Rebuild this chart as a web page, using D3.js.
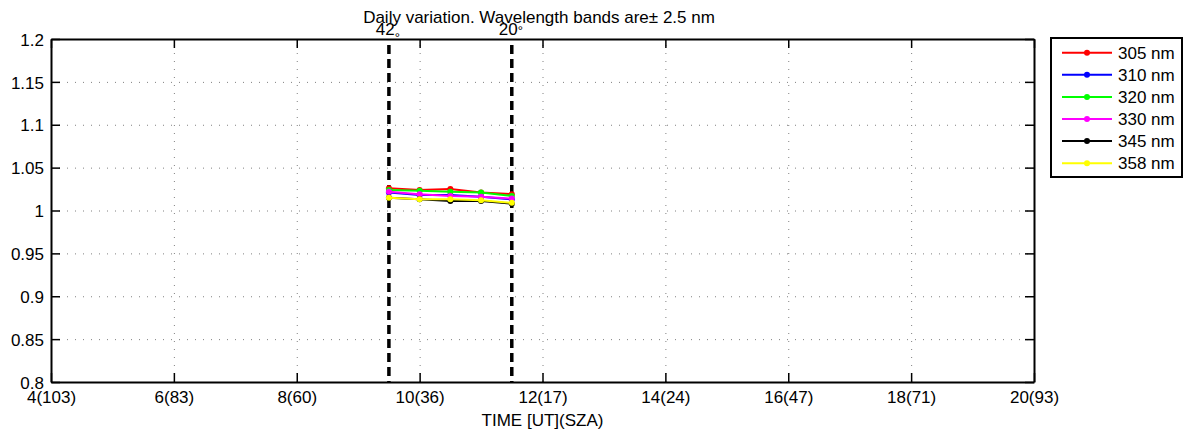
<!DOCTYPE html>
<html>
<head>
<meta charset="utf-8">
<script src="https://cdn.jsdelivr.net/npm/d3@7"></script>
<style>
  html, body { margin: 0; padding: 0; background: #fff; }
  svg { display: block; }
  text { font-family: "Liberation Sans", Arial, sans-serif; fill: #000; }
</style>
</head>
<body>
<svg id="chart" width="1192" height="435"></svg>
<script>
// ---- data ----
const times = [9.5, 10, 10.5, 11, 11.5];
const s305 = [1.026, 1.024, 1.025, 1.021, 1.019];
const s310 = [1.021, 1.018, 1.018, 1.016, 1.013];
const s320 = [1.024, 1.023, 1.022, 1.021, 1.017];
const s330 = [1.022, 1.019, 1.017, 1.016, 1.014];
const s345 = [1.015, 1.013, 1.011, 1.011, 1.008];
const s358 = [1.015, 1.013, 1.013, 1.012, 1.009];
const seriesNames = ["305 nm", "310 nm", "320 nm", "330 nm", "345 nm", "358 nm"];
const seriesColors = ["#ff0000", "#0000ff", "#00ff00", "#ff00ff", "#000000", "#ffff00"];
const xTicks = [4, 6, 8, 10, 12, 14, 16, 18, 20];
const xTickLabels = ["4(103)", "6(83)", "8(60)", "10(36)", "12(17)", "14(24)", "16(47)", "18(71)", "20(93)"];
const yTicks = [0.8, 0.85, 0.9, 0.95, 1, 1.05, 1.1, 1.15, 1.2];
const markerTimes = [9.5, 11.5];
const markerNumbers = ["42", "20"];
const titleText = "Daily variation. Wavelength bands are\u00b1 2.5 nm";
const xTitle = "TIME [UT](SZA)";

const allSeries = [s305, s310, s320, s330, s345, s358];

// ---- layout ----
const FONT = 17;
const L = 51, R = 1034, T = 39, B = 382;
const svg = d3.select("#chart");
const x = d3.scaleLinear().domain([4, 20]).range([L, R]);
const y = d3.scaleLinear().domain([0.8, 1.2]).range([B, T]);

// grid
const gx = svg.append("g").attr("transform", `translate(0,${B})`)
  .call(d3.axisBottom(x).tickValues(xTicks).tickSize(-(B - T)).tickFormat(""));
gx.select(".domain").remove();
gx.selectAll("line").attr("stroke", "#808080").attr("stroke-dasharray", "1,7").attr("stroke-width", 1);
const gy = svg.append("g").attr("transform", `translate(${L},0)`)
  .call(d3.axisLeft(y).tickValues(yTicks).tickSize(-(R - L)).tickFormat(""));
gy.select(".domain").remove();
gy.selectAll("line").attr("stroke", "#808080").attr("stroke-dasharray", "1,7").attr("stroke-width", 1);

// axes
function styleAxis(g) {
  g.select(".domain").attr("stroke", "#000").attr("stroke-width", 2);
  g.selectAll(".tick line").attr("stroke", "#000").attr("stroke-width", 1.5);
  g.selectAll("text").attr("font-family", "Liberation Sans, Arial, sans-serif")
    .attr("font-size", FONT).attr("fill", "#000");
}
const axB = svg.append("g").attr("transform", `translate(0,${B})`)
  .call(d3.axisBottom(x).tickValues(xTicks).tickSize(-9).tickSizeOuter(0).tickPadding(9)
    .tickFormat((d, i) => xTickLabels[i]));
styleAxis(axB);
const axT = svg.append("g").attr("transform", `translate(0,${T})`)
  .call(d3.axisTop(x).tickValues(xTicks).tickSize(-9).tickSizeOuter(0).tickFormat(""));
styleAxis(axT);
const axL = svg.append("g").attr("transform", `translate(${L},0)`)
  .call(d3.axisLeft(y).tickValues(yTicks).tickSize(-9).tickSizeOuter(0).tickPadding(7)
    .tickFormat(d => String(+d.toFixed(2))));
styleAxis(axL);
axL.selectAll("text").attr("dy", "0.36em");
const axR = svg.append("g").attr("transform", `translate(${R},0)`)
  .call(d3.axisRight(y).tickValues(yTicks).tickSize(-9).tickSizeOuter(0).tickFormat(""));
styleAxis(axR);

// dashed vertical markers
svg.append("g").selectAll("line").data(markerTimes).join("line")
  .attr("x1", d => x(d)).attr("x2", d => x(d))
  .attr("y1", y(1.2) + 6).attr("y2", y(0.8))
  .attr("stroke", "#000").attr("stroke-width", 3.5).attr("stroke-dasharray", "9,5");

// series
const line = d3.line().x((d, i) => x(times[i])).y(d => y(d));
allSeries.forEach((s, k) => {
  const g = svg.append("g");
  g.append("path").datum(s).attr("d", line)
    .attr("fill", "none").attr("stroke", seriesColors[k]).attr("stroke-width", 2);
  g.selectAll("circle").data(s).join("circle")
    .attr("cx", (d, i) => x(times[i])).attr("cy", d => y(d)).attr("r", 3)
    .attr("fill", seriesColors[k]);
});

// title
svg.append("text").attr("x", 539).attr("y", 23).attr("text-anchor", "middle")
  .attr("font-size", FONT).text(titleText);

// angle labels (degree sign sits low on the first one, as in the reference)
const degShift = [7, 0];
svg.append("g").selectAll("text").data(markerNumbers).join("text")
  .attr("x", (d, i) => x(markerTimes[i]) - 1).attr("y", 35).attr("text-anchor", "middle")
  .attr("font-size", FONT)
  .each(function (d, i) {
    const t = d3.select(this);
    t.append("tspan").text(d);
    t.append("tspan").attr("dy", degShift[i]).attr("font-size", 13).text("°");
  });

// x title
svg.append("text").attr("x", 542.5).attr("y", 425.5).attr("text-anchor", "middle")
  .attr("font-size", FONT).text(xTitle);

// legend
const lgTop = 38, lgRow = 22.1, lgX = 1051;
const lg = svg.append("g");
lg.append("rect").attr("x", lgX).attr("y", lgTop).attr("width", 131).attr("height", 139)
  .attr("fill", "#fff").attr("stroke", "#000").attr("stroke-width", 2);
seriesNames.forEach((name, k) => {
  const cy = lgTop + 14.7 + k * lgRow;
  lg.append("line").attr("x1", 1062).attr("x2", 1112).attr("y1", cy).attr("y2", cy)
    .attr("stroke", seriesColors[k]).attr("stroke-width", 2);
  lg.append("circle").attr("cx", 1087).attr("cy", cy).attr("r", 3).attr("fill", seriesColors[k]);
  lg.append("text").attr("x", 1118).attr("y", cy).attr("dy", "0.36em")
    .attr("font-size", FONT).text(name);
});
</script>
</body>
</html>
